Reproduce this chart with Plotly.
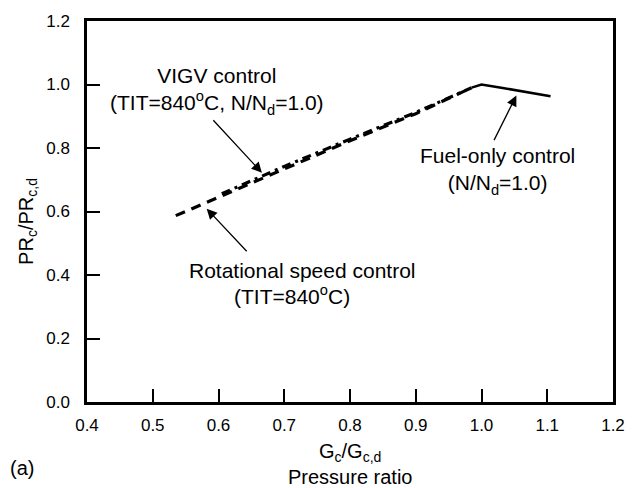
import plotly.graph_objects as go

# Data
rot_x = [0.535, 0.60, 0.70, 0.80, 0.90, 0.985]
rot_y = [0.587, 0.645, 0.735, 0.823, 0.908, 0.990]

vigv_x = [0.605, 0.70, 0.80, 0.90, 0.985]
vigv_y = [0.656, 0.742, 0.828, 0.912, 0.990]

fuel_x = [0.985, 1.00, 1.03, 1.105]
fuel_y = [0.990, 1.000, 0.990, 0.963]

x_ticks = [0.4, 0.5, 0.6, 0.7, 0.8, 0.9, 1.0, 1.1, 1.2]
y_ticks = [0.0, 0.2, 0.4, 0.6, 0.8, 1.0, 1.2]

FONT = "Liberation Sans, Arial, sans-serif"

fig = go.Figure()
fig.add_trace(go.Scatter(x=rot_x, y=rot_y, mode="lines",
                         line=dict(color="black", width=3.2, dash="10px,7px"),
                         showlegend=False))
fig.add_trace(go.Scatter(x=vigv_x, y=vigv_y, mode="lines",
                         line=dict(color="black", width=3.2, dash="9px,5px,3px,5px"),
                         showlegend=False))
fig.add_trace(go.Scatter(x=fuel_x, y=fuel_y, mode="lines",
                         line=dict(color="black", width=2.5),
                         showlegend=False))

ann_font = dict(family=FONT, size=21, color="black")

def arrow(hx, hy, tx, ty):
    fig.add_annotation(x=hx, y=hy, ax=tx, ay=ty, xref="x", yref="y",
                       axref="x", ayref="y", text="", showarrow=True,
                       arrowhead=2, arrowsize=1.6, arrowwidth=1.3,
                       arrowcolor="black")

arrow(0.666, 0.722, 0.590, 0.892)
arrow(0.582, 0.609, 0.645, 0.470)
arrow(1.053, 0.965, 1.018, 0.820)

def label(x, y, text, font, ref="x", **kw):
    fig.add_annotation(x=x, y=y, xref=ref, yref=("y" if ref == "x" else "paper"),
                       showarrow=False, text=text, font=font,
                       xanchor="center", yanchor="middle", align="center", **kw)

label(0.597, 0.979, "VIGV control<br>(TIT=840<sup>o</sup>C, N/N<sub>d</sub>=1.0)", ann_font)
label(0.7265, 0.413, "Rotational speed control", ann_font)
label(0.7113, 0.336, "(TIT=840<sup>o</sup>C)", ann_font)
label(1.0243, 0.7265, "Fuel-only control<br>(N/N<sub>d</sub>=1.0)", ann_font)

title_font = dict(family=FONT, size=20, color="black")
label(0.5, -0.133, "G<sub>c</sub>/G<sub>c,d</sub>", title_font, ref="paper")
label(0.5, -0.196, "Pressure ratio", title_font, ref="paper")
label(-0.124, -0.172, "(a)", title_font, ref="paper")
label(-0.112, 0.473, "PR<sub>c</sub>/PR<sub>c,d</sub>", title_font, ref="paper", textangle=-90)

axis_common = dict(showgrid=False, zeroline=False, showline=True, linecolor="black",
                   linewidth=2.5, mirror=True, ticks="inside", ticklen=13,
                   tickwidth=2, tickcolor="black", tickformat=".1f",
                   tickfont=dict(family=FONT, size=17, color="black"))

fig.update_xaxes(range=[0.4, 1.2], tickvals=x_ticks, ticklabelstandoff=6, **axis_common)
fig.update_yaxes(range=[0.0, 1.2], tickvals=y_ticks, ticklabelstandoff=11, **axis_common)

fig.update_layout(width=638, height=488, margin=dict(l=87, r=25, t=13, b=86),
                  plot_bgcolor="white", paper_bgcolor="white",
                  font=dict(family=FONT, color="black"))

fig.write_html("out.html", config={"displayModeBar": False},
               post_script="document.body.style.margin='0';")
